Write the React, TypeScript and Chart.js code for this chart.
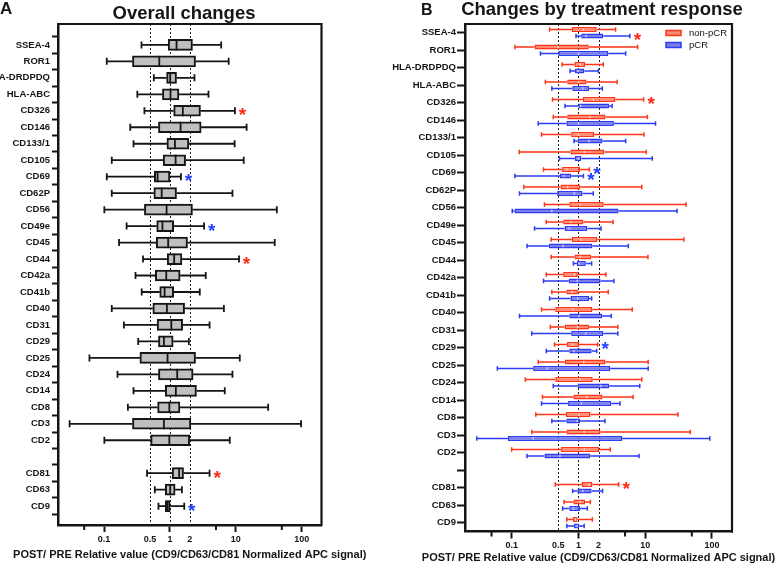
import { useEffect, useRef } from 'react';
import { Chart, registerables } from 'chart.js';

Chart.register(...registerables);

const FONT = '"Liberation Sans", Arial, Helvetica, sans-serif';
const INK = '#151515';
const RED = '#ff3419';
const BLUE = '#2b3cf2';
const STAR_COLORS: Record<string, string> = { red: '#ff2a16', blue: '#2340ff' };

const markers = ['SSEA-4', 'ROR1', 'HLA-DRDPDQ', 'HLA-ABC', 'CD326', 'CD146', 'CD133/1', 'CD105', 'CD69', 'CD62P', 'CD56', 'CD49e', 'CD45', 'CD44', 'CD42a', 'CD41b', 'CD40', 'CD31', 'CD29', 'CD25', 'CD24', 'CD14', 'CD8', 'CD3', 'CD2', '', 'CD81', 'CD63', 'CD9'];

// Overall POST/PRE ratios: whisker min, Q1, median, Q3, whisker max
const allMin = [0.37, 0.11, 0.57, 0.32, 0.41, 0.25, 0.28, 0.131, 0.11, 0.131, 0.101, 0.22, 0.169, 0.39, 0.30, 0.373, 0.131, 0.20, 0.33, 0.060, 0.16, 0.28, 0.23, 0.030, 0.101, null, 0.45, 0.59, 0.67];
const allQ1 = [0.94, 0.27, 0.89, 0.77, 1.14, 0.67, 0.90, 0.79, 0.58, 0.57, 0.41, 0.63, 0.62, 0.91, 0.60, 0.70, 0.55, 0.64, 0.67, 0.35, 0.67, 0.85, 0.65, 0.27, 0.51, null, 1.08, 0.85, 0.85];
const allMed = [1.26, 0.69, 1.01, 1.02, 1.57, 1.45, 1.19, 1.22, 0.65, 0.75, 0.89, 0.77, 0.94, 1.16, 0.88, 0.83, 0.90, 1.05, 0.81, 0.92, 1.29, 1.23, 0.98, 0.81, 0.98, null, 1.38, 1.01, 0.92];
const allQ3 = [2.2, 2.45, 1.26, 1.37, 2.91, 2.98, 1.94, 1.73, 1.0, 1.26, 2.2, 1.14, 1.85, 1.52, 1.43, 1.14, 1.67, 1.56, 1.12, 2.45, 2.25, 2.53, 1.42, 2.08, 2.0, null, 1.61, 1.20, 1.01];
const allMax = [6.0, 7.8, 2.36, 3.85, 9.7, 14.6, 9.6, 13.2, 1.47, 8.9, 42, 3.3, 39, 11.2, 3.5, 2.84, 6.6, 4.0, 1.94, 11.5, 8.9, 6.8, 31, 98, 8.1, null, 4.0, 1.52, 1.65];
const allStars: Record<string, string> = { CD326: 'red', CD69: 'blue', CD49e: 'blue', CD44: 'red', CD81: 'red', CD9: 'blue' };

// non-pCR group
const nMin = [0.37, 0.112, 0.57, 0.32, 0.41, 0.42, 0.28, 0.13, 0.30, 0.152, 0.31, 0.33, 0.39, 0.39, 0.33, 0.40, 0.28, 0.38, 0.44, 0.25, 0.16, 0.29, 0.23, 0.20, 0.10, null, 0.45, 0.61, 0.67];
const nQ1 = [0.80, 0.22, 0.87, 0.68, 1.16, 0.68, 0.78, 0.76, 0.57, 0.54, 0.73, 0.59, 0.80, 0.87, 0.59, 0.66, 0.45, 0.62, 0.67, 0.62, 0.45, 0.84, 0.65, 0.66, 0.55, null, 1.13, 0.84, 0.83];
const nMed = [1.19, 0.49, 1.06, 1.01, 1.67, 1.49, 1.0, 1.23, 0.67, 0.69, 1.06, 0.77, 1.08, 1.06, 0.87, 0.80, 0.82, 0.97, 0.82, 1.20, 1.06, 1.33, 1.02, 1.22, 1.23, null, 1.46, 1.06, 0.91];
const nQ3 = [1.88, 1.43, 1.27, 1.33, 3.6, 2.55, 1.73, 2.44, 1.06, 1.06, 2.39, 1.19, 1.92, 1.55, 0.98, 0.98, 1.62, 1.44, 1.02, 2.55, 1.64, 2.3, 1.51, 2.15, 2.05, null, 1.62, 1.26, 0.97];
const nMax = [3.6, 7.7, 2.36, 3.8, 9.5, 10.8, 9.6, 10.4, 1.46, 8.9, 41, 3.3, 38, 11.0, 2.58, 2.8, 6.4, 3.9, 1.94, 11.1, 8.9, 6.6, 31, 47.5, 3.0, null, 4.0, 1.51, 1.62];
const nStars: Record<string, string> = { CD326: 'red', CD69: 'blue', CD29: 'blue', CD81: 'red' };

// pCR group
const pMin = [0.92, 0.27, 0.75, 0.40, 0.63, 0.25, 0.86, 0.52, 0.112, 0.131, 0.102, 0.22, 0.17, 0.84, 0.30, 0.37, 0.131, 0.20, 0.33, 0.061, 0.42, 0.28, 0.40, 0.030, 0.17, null, 0.82, 0.58, 0.67];
const pQ1 = [1.10, 0.50, 0.89, 0.81, 1.0, 0.66, 0.97, 0.89, 0.53, 0.48, 0.11, 0.62, 0.36, 0.95, 0.72, 0.76, 0.73, 0.78, 0.73, 0.21, 0.98, 0.70, 0.66, 0.088, 0.31, null, 0.97, 0.73, 0.86];
const pMed = [1.30, 1.0, 1.0, 1.16, 1.08, 1.0, 1.44, 1.0, 0.61, 0.87, 0.40, 0.73, 0.59, 1.02, 0.96, 0.98, 1.02, 1.29, 0.86, 0.34, 2.18, 1.10, 0.96, 0.21, 0.53, null, 1.16, 0.84, 0.96];
const pQ3 = [2.36, 2.8, 1.23, 1.44, 2.9, 3.4, 2.3, 1.10, 0.78, 1.15, 4.0, 1.36, 1.62, 1.29, 2.15, 1.44, 2.28, 2.36, 1.58, 3.0, 2.9, 3.1, 1.06, 4.5, 1.51, null, 1.58, 1.06, 1.02];
const pMax = [5.9, 5.1, 1.99, 2.28, 3.2, 14.3, 5.1, 12.8, 1.19, 1.67, 30, 2.18, 5.6, 1.58, 3.4, 1.58, 3.1, 3.9, 1.88, 11.1, 8.3, 4.2, 2.5, 93, 8.1, null, 2.3, 1.36, 1.22];
const pStars: Record<string, string> = { 'SSEA-4': 'red', CD69: 'blue' };

const xTickValues = [0.1, 0.5, 1, 2, 10, 100];
const xUnmarkedTicks = [0.5, 2];
const xMinorTicks = [0.05, 5, 50];
const refLines = [0.5, 1, 2];
const xTitle = 'POST/ PRE Relative value (CD9/CD63/CD81 Normalized APC signal)';
const groupNames = ['non-pCR', 'pCR'];

type Series = {
  min: (number | null)[];
  q1: (number | null)[];
  med: (number | null)[];
  q3: (number | null)[];
  max: (number | null)[];
  stars: Record<string, string>;
  line: string;
  median: string;
  lw: number;
  cap: number;
  medInset: number;
};

type TextItem = { text: string; x: number; y: number; font: string; align?: CanvasTextAlign; color?: string };

// Whiskers, caps, medians and significance marks for each box dataset
function boxPlugin(series: Series[]) {
  const forEachBox = (chart: any, cb: (s: Series, i: number, y: number, h: number) => void) => {
    series.forEach((s, di) => {
      const meta = chart.getDatasetMeta(di);
      meta.data.forEach((el: any, j: number) => {
        const idx = meta.controller.getParsed(j).y;
        if (s.min[idx] == null) return;
        const { y, height } = el.getProps(['y', 'height'], true);
        cb(s, idx, y, height);
      });
    });
  };
  return {
    id: 'boxWhiskers',
    beforeDatasetsDraw(chart: any) {
      const { ctx } = chart;
      const xs = chart.scales.x;
      ctx.save();
      forEachBox(chart, (s, i, y) => {
        const a = xs.getPixelForValue(s.min[i]);
        const b = xs.getPixelForValue(s.q1[i]);
        const c = xs.getPixelForValue(s.q3[i]);
        const d = xs.getPixelForValue(s.max[i]);
        ctx.strokeStyle = s.line;
        ctx.lineWidth = s.lw;
        ctx.beginPath();
        ctx.moveTo(a, y); ctx.lineTo(b, y);
        ctx.moveTo(c, y); ctx.lineTo(d, y);
        ctx.moveTo(a, y - s.cap); ctx.lineTo(a, y + s.cap);
        ctx.moveTo(d, y - s.cap); ctx.lineTo(d, y + s.cap);
        ctx.stroke();
      });
      ctx.restore();
    },
    afterDatasetsDraw(chart: any) {
      const { ctx } = chart;
      const xs = chart.scales.x;
      ctx.save();
      forEachBox(chart, (s, i, y, h) => {
        const m = xs.getPixelForValue(s.med[i]);
        ctx.strokeStyle = s.median;
        ctx.lineWidth = s.lw;
        ctx.beginPath();
        ctx.moveTo(m, y - h / 2 + s.medInset);
        ctx.lineTo(m, y + h / 2 - s.medInset);
        ctx.stroke();
        const star = s.stars[markers[i]];
        if (star) {
          const d = xs.getPixelForValue(s.max[i]);
          ctx.font = `bold 19px ${FONT}`;
          ctx.fillStyle = STAR_COLORS[star];
          ctx.textAlign = 'center';
          ctx.textBaseline = 'alphabetic';
          ctx.fillText('*', d + 7.5, y + 10.5);
        }
      });
      ctx.restore();
    },
  };
}

// Dotted reference lines, closed frame, minor ticks and panel texts
function framePlugin(texts: TextItem[], xTitleY: number, legend: boolean) {
  return {
    id: 'frame',
    beforeDatasetsDraw(chart: any) {
      const { ctx, chartArea } = chart;
      const xs = chart.scales.x;
      ctx.save();
      ctx.strokeStyle = '#222';
      ctx.lineWidth = 1;
      ctx.setLineDash([2, 2]);
      refLines.forEach((v) => {
        const px = Math.round(xs.getPixelForValue(v)) + 0.5;
        ctx.beginPath();
        ctx.moveTo(px, chartArea.top);
        ctx.lineTo(px, chartArea.bottom);
        ctx.stroke();
      });
      ctx.restore();
    },
    afterDraw(chart: any) {
      const { ctx, chartArea } = chart;
      const xs = chart.scales.x;
      ctx.save();
      ctx.strokeStyle = INK;
      ctx.lineWidth = 2.2;
      ctx.beginPath();
      ctx.moveTo(chartArea.left - 1, chartArea.top);
      ctx.lineTo(chartArea.right, chartArea.top);
      ctx.lineTo(chartArea.right, chartArea.bottom + 1);
      ctx.stroke();
      ctx.lineWidth = 2;
      ctx.beginPath();
      xMinorTicks.forEach((v) => {
        const px = xs.getPixelForValue(v);
        ctx.moveTo(px, chartArea.bottom);
        ctx.lineTo(px, chartArea.bottom + 5);
      });
      ctx.stroke();

      ctx.fillStyle = INK;
      ctx.textBaseline = 'alphabetic';
      texts.forEach((t) => {
        ctx.font = t.font;
        ctx.fillStyle = t.color || INK;
        ctx.textAlign = t.align || 'left';
        ctx.fillText(t.text, t.x, t.y);
      });

      ctx.font = `bold 11px ${FONT}`;
      ctx.fillStyle = INK;
      ctx.textAlign = 'center';
      ctx.textBaseline = 'middle';
      ctx.fillText(xTitle, (chartArea.left + chartArea.right) / 2, xTitleY);

      if (legend) {
        const fills = [chart.data.datasets[0].backgroundColor, chart.data.datasets[1].backgroundColor];
        const lines = [chart.data.datasets[0].borderColor, chart.data.datasets[1].borderColor];
        const lx = chartArea.right - 66;
        groupNames.forEach((name, k) => {
          const cy = 33 + k * 12;
          ctx.fillStyle = fills[k];
          ctx.fillRect(lx, cy - 2.5, 15, 5);
          ctx.strokeStyle = lines[k];
          ctx.lineWidth = 1.5;
          ctx.strokeRect(lx, cy - 2.5, 15, 5);
          ctx.font = `9.5px ${FONT}`;
          ctx.fillStyle = INK;
          ctx.textAlign = 'left';
          ctx.textBaseline = 'middle';
          ctx.fillText(name, lx + 23, cy + 0.5);
        });
      }
      ctx.restore();
    },
  };
}

function xAxis(height: number) {
  return {
    type: 'logarithmic' as const,
    min: 0.02,
    max: 200,
    bounds: 'data' as const,
    afterBuildTicks: (s: any) => {
      s.ticks = xTickValues.map((v) => ({ value: v }));
    },
    afterFit: (s: any) => {
      s.height = height;
    },
    ticks: {
      autoSkip: false,
      maxRotation: 0,
      padding: 2,
      color: INK,
      font: { family: FONT, size: 9, weight: 'bold' as const },
      callback: (v: any) => String(v),
    },
    grid: {
      drawOnChartArea: false,
      tickLength: 7,
      tickWidth: 2,
      tickColor: (c: any) => (c.tick && xUnmarkedTicks.includes(c.tick.value) ? 'rgba(0,0,0,0)' : INK),
    },
    border: { display: true, color: INK, width: 2.5 },
  };
}

function yTicks(padding: number) {
  return {
    autoSkip: false,
    padding,
    color: INK,
    font: { family: FONT, size: 9.5, weight: 'bold' as const },
  };
}

export default function App() {
  const refA = useRef<HTMLCanvasElement>(null);
  const refB = useRef<HTMLCanvasElement>(null);

  useEffect(() => {
    const overall: Series = { min: allMin, q1: allQ1, med: allMed, q3: allQ3, max: allMax, stars: allStars, line: INK, median: INK, lw: 1.8, cap: 3.5, medInset: 0 };
    const dataA = markers
      .map((_, i) => (allQ1[i] == null ? null : { x: [allQ1[i], allQ3[i]], y: i }))
      .filter((d) => d !== null);

    const chartA = new Chart(refA.current!, {
      type: 'bar',
      data: {
        datasets: [
          {
            label: 'Overall',
            data: dataA as any,
            backgroundColor: '#bfbfbf',
            borderColor: INK,
            borderWidth: 2,
            borderSkipped: false,
            barThickness: 11,
          },
        ],
      },
      options: {
        indexAxis: 'y',
        responsive: false,
        animation: false,
        layout: { padding: { left: 0, top: 24, right: 68.5, bottom: 0 } },
        plugins: { legend: { display: false }, tooltip: { enabled: false }, title: { display: false } },
        scales: {
          x: xAxis(45),
          y: {
            type: 'linear',
            reverse: true,
            min: -0.744,
            max: 28.62,
            bounds: 'data',
            afterBuildTicks: (s: any) => {
              s.ticks = markers.map((_, i) => ({ value: i }));
            },
            afterFit: (s: any) => {
              s.width = 58;
            },
            ticks: { ...yTicks(2), callback: (v: any) => markers[v] ?? '' },
            grid: { drawOnChartArea: false, tickLength: 6, tickWidth: 2, tickColor: INK },
            border: { display: true, color: INK, width: 2.5 },
          },
        },
      },
      plugins: [
        framePlugin(
          [
            { text: 'A', x: 0, y: 14, font: `bold 17px ${FONT}` },
            { text: 'Overall changes', x: 184, y: 19, font: `bold 18.5px ${FONT}`, align: 'center' },
          ],
          555,
          false,
        ),
        boxPlugin([overall]),
      ],
    });

    const nonPcr: Series = { min: nMin, q1: nQ1, med: nMed, q3: nQ3, max: nMax, stars: nStars, line: RED, median: '#ffd0c2', lw: 1.5, cap: 2.2, medInset: 1.2 };
    const pcr: Series = { min: pMin, q1: pQ1, med: pMed, q3: pQ3, max: pMax, stars: pStars, line: BLUE, median: '#c6c7f5', lw: 1.5, cap: 2.2, medInset: 1.2 };

    const chartB = new Chart(refB.current!, {
      type: 'bar',
      data: {
        labels: markers,
        datasets: [
          {
            label: groupNames[0],
            data: markers.map((_, i) => (nQ1[i] == null ? null : [nQ1[i], nQ3[i]])) as any,
            backgroundColor: '#ff8d72',
            borderColor: RED,
            borderWidth: 1.5,
            borderSkipped: false,
            categoryPercentage: 0.73,
            barPercentage: 0.78,
          },
          {
            label: groupNames[1],
            data: markers.map((_, i) => (pQ1[i] == null ? null : [pQ1[i], pQ3[i]])) as any,
            backgroundColor: '#7b7de2',
            borderColor: BLUE,
            borderWidth: 1.5,
            borderSkipped: false,
            categoryPercentage: 0.73,
            barPercentage: 0.78,
          },
        ],
      },
      options: {
        indexAxis: 'y',
        responsive: false,
        animation: false,
        layout: { padding: { left: 0, top: 24, right: 47, bottom: 0 } },
        plugins: { legend: { display: false }, tooltip: { enabled: false }, title: { display: false } },
        scales: {
          x: xAxis(38.5),
          y: {
            type: 'category',
            offset: true,
            afterFit: (s: any) => {
              s.width = 75;
            },
            ticks: yTicks(1),
            grid: { drawOnChartArea: false, tickLength: 8, tickWidth: 2, tickColor: INK, offset: false },
            border: { display: true, color: INK, width: 2.5 },
          },
        },
      },
      plugins: [
        framePlugin(
          [
            { text: 'B', x: 31, y: 14.5, font: `bold 16px ${FONT}` },
            { text: 'Changes by treatment response', x: 212, y: 14.5, font: `bold 18.5px ${FONT}`, align: 'center' },
          ],
          558,
          true,
        ),
        boxPlugin([nonPcr, pcr]),
      ],
    });

    return () => {
      chartA.destroy();
      chartB.destroy();
    };
  }, []);

  return (
    <div style={{ position: 'fixed', left: 0, top: 0, width: 779, height: 570, background: '#fff', overflow: 'hidden' }}>
      <canvas ref={refA} width={390} height={570} style={{ position: 'absolute', left: 0, top: 0, width: 390, height: 570 }} />
      <canvas ref={refB} width={389} height={570} style={{ position: 'absolute', left: 390, top: 0, width: 389, height: 570 }} />
    </div>
  );
}
